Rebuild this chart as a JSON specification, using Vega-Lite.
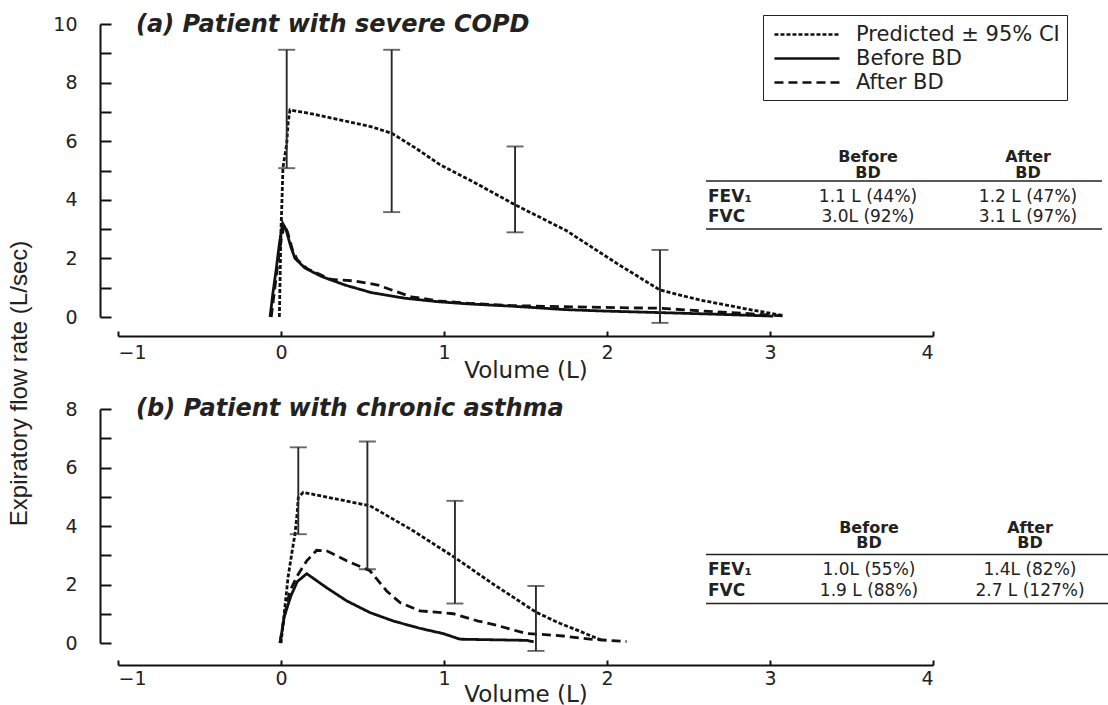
{
  "$schema": "https://vega.github.io/schema/vega-lite/v6.json",
  "autosize": {"type": "pad"},
  "padding": {"left": 7, "top": 12, "right": 0, "bottom": 0},
  "background": "white",
  "datasets": {
    "curves": [
      {"panel":"a","series":"Predicted ± 95% CI","i":1,"volume":-0.01,"flow":0},
      {"panel":"a","series":"Predicted ± 95% CI","i":2,"volume":-0.005,"flow":1.5},
      {"panel":"a","series":"Predicted ± 95% CI","i":3,"volume":0.0,"flow":3.0},
      {"panel":"a","series":"Predicted ± 95% CI","i":4,"volume":0.005,"flow":3.8},
      {"panel":"a","series":"Predicted ± 95% CI","i":5,"volume":0.012,"flow":5.1},
      {"panel":"a","series":"Predicted ± 95% CI","i":6,"volume":0.035,"flow":5.9},
      {"panel":"a","series":"Predicted ± 95% CI","i":7,"volume":0.043,"flow":6.6},
      {"panel":"a","series":"Predicted ± 95% CI","i":8,"volume":0.055,"flow":7.07},
      {"panel":"a","series":"Predicted ± 95% CI","i":9,"volume":0.2,"flow":6.92},
      {"panel":"a","series":"Predicted ± 95% CI","i":10,"volume":0.36,"flow":6.73},
      {"panel":"a","series":"Predicted ± 95% CI","i":11,"volume":0.55,"flow":6.5},
      {"panel":"a","series":"Predicted ± 95% CI","i":12,"volume":0.68,"flow":6.27},
      {"panel":"a","series":"Predicted ± 95% CI","i":13,"volume":0.83,"flow":5.75},
      {"panel":"a","series":"Predicted ± 95% CI","i":14,"volume":0.975,"flow":5.2},
      {"panel":"a","series":"Predicted ± 95% CI","i":15,"volume":1.2,"flow":4.55},
      {"panel":"a","series":"Predicted ± 95% CI","i":16,"volume":1.436,"flow":3.83},
      {"panel":"a","series":"Predicted ± 95% CI","i":17,"volume":1.75,"flow":2.95},
      {"panel":"a","series":"Predicted ± 95% CI","i":18,"volume":2.06,"flow":1.83},
      {"panel":"a","series":"Predicted ± 95% CI","i":19,"volume":2.325,"flow":0.92},
      {"panel":"a","series":"Predicted ± 95% CI","i":20,"volume":2.57,"flow":0.58},
      {"panel":"a","series":"Predicted ± 95% CI","i":21,"volume":2.85,"flow":0.28},
      {"panel":"a","series":"Predicted ± 95% CI","i":22,"volume":3.08,"flow":0.05},

      {"panel":"a","series":"Before BD","i":1,"volume":-0.067,"flow":0},
      {"panel":"a","series":"Before BD","i":2,"volume":-0.05,"flow":0.8},
      {"panel":"a","series":"Before BD","i":3,"volume":-0.03,"flow":1.6},
      {"panel":"a","series":"Before BD","i":4,"volume":-0.01,"flow":2.5},
      {"panel":"a","series":"Before BD","i":5,"volume":0.01,"flow":3.2},
      {"panel":"a","series":"Before BD","i":6,"volume":0.03,"flow":3.0},
      {"panel":"a","series":"Before BD","i":7,"volume":0.06,"flow":2.4},
      {"panel":"a","series":"Before BD","i":8,"volume":0.086,"flow":2.0},
      {"panel":"a","series":"Before BD","i":9,"volume":0.147,"flow":1.67},
      {"panel":"a","series":"Before BD","i":10,"volume":0.25,"flow":1.38},
      {"panel":"a","series":"Before BD","i":11,"volume":0.393,"flow":1.09},
      {"panel":"a","series":"Before BD","i":12,"volume":0.556,"flow":0.83},
      {"panel":"a","series":"Before BD","i":13,"volume":0.761,"flow":0.64},
      {"panel":"a","series":"Before BD","i":14,"volume":0.965,"flow":0.52},
      {"panel":"a","series":"Before BD","i":15,"volume":1.17,"flow":0.44},
      {"panel":"a","series":"Before BD","i":16,"volume":1.415,"flow":0.37},
      {"panel":"a","series":"Before BD","i":17,"volume":1.75,"flow":0.25},
      {"panel":"a","series":"Before BD","i":18,"volume":2.0,"flow":0.2},
      {"panel":"a","series":"Before BD","i":19,"volume":2.325,"flow":0.15},
      {"panel":"a","series":"Before BD","i":20,"volume":2.7,"flow":0.09},
      {"panel":"a","series":"Before BD","i":21,"volume":3.02,"flow":0.03},

      {"panel":"a","series":"After BD","i":1,"volume":-0.06,"flow":0},
      {"panel":"a","series":"After BD","i":2,"volume":-0.04,"flow":0.9},
      {"panel":"a","series":"After BD","i":3,"volume":-0.02,"flow":1.8},
      {"panel":"a","series":"After BD","i":4,"volume":0.0,"flow":2.6},
      {"panel":"a","series":"After BD","i":5,"volume":0.02,"flow":3.15},
      {"panel":"a","series":"After BD","i":6,"volume":0.04,"flow":2.9},
      {"panel":"a","series":"After BD","i":7,"volume":0.07,"flow":2.3},
      {"panel":"a","series":"After BD","i":8,"volume":0.1,"flow":1.95},
      {"panel":"a","series":"After BD","i":9,"volume":0.16,"flow":1.65},
      {"panel":"a","series":"After BD","i":10,"volume":0.25,"flow":1.42},
      {"panel":"a","series":"After BD","i":11,"volume":0.31,"flow":1.28},
      {"panel":"a","series":"After BD","i":12,"volume":0.454,"flow":1.23},
      {"panel":"a","series":"After BD","i":13,"volume":0.595,"flow":1.09},
      {"panel":"a","series":"After BD","i":14,"volume":0.679,"flow":0.92},
      {"panel":"a","series":"After BD","i":15,"volume":0.8,"flow":0.69},
      {"panel":"a","series":"After BD","i":16,"volume":0.965,"flow":0.55},
      {"panel":"a","series":"After BD","i":17,"volume":1.17,"flow":0.46},
      {"panel":"a","series":"After BD","i":18,"volume":1.415,"flow":0.39},
      {"panel":"a","series":"After BD","i":19,"volume":1.75,"flow":0.35},
      {"panel":"a","series":"After BD","i":20,"volume":2.16,"flow":0.31},
      {"panel":"a","series":"After BD","i":21,"volume":2.325,"flow":0.3},
      {"panel":"a","series":"After BD","i":22,"volume":2.6,"flow":0.2},
      {"panel":"a","series":"After BD","i":23,"volume":2.85,"flow":0.12},
      {"panel":"a","series":"After BD","i":24,"volume":3.1,"flow":0.03},

      {"panel":"b","series":"Predicted ± 95% CI","i":1,"volume":0.0,"flow":0},
      {"panel":"b","series":"Predicted ± 95% CI","i":2,"volume":0.02,"flow":1.0},
      {"panel":"b","series":"Predicted ± 95% CI","i":3,"volume":0.043,"flow":2.24},
      {"panel":"b","series":"Predicted ± 95% CI","i":4,"volume":0.07,"flow":3.2},
      {"panel":"b","series":"Predicted ± 95% CI","i":5,"volume":0.086,"flow":3.73},
      {"panel":"b","series":"Predicted ± 95% CI","i":6,"volume":0.1,"flow":4.5},
      {"panel":"b","series":"Predicted ± 95% CI","i":7,"volume":0.106,"flow":4.98},
      {"panel":"b","series":"Predicted ± 95% CI","i":8,"volume":0.137,"flow":5.15},
      {"panel":"b","series":"Predicted ± 95% CI","i":9,"volume":0.342,"flow":4.92},
      {"panel":"b","series":"Predicted ± 95% CI","i":10,"volume":0.546,"flow":4.69},
      {"panel":"b","series":"Predicted ± 95% CI","i":11,"volume":0.81,"flow":3.84},
      {"panel":"b","series":"Predicted ± 95% CI","i":12,"volume":1.067,"flow":2.92},
      {"panel":"b","series":"Predicted ± 95% CI","i":13,"volume":1.3,"flow":2.02},
      {"panel":"b","series":"Predicted ± 95% CI","i":14,"volume":1.569,"flow":1.04},
      {"panel":"b","series":"Predicted ± 95% CI","i":15,"volume":1.7,"flow":0.7},
      {"panel":"b","series":"Predicted ± 95% CI","i":16,"volume":1.83,"flow":0.41},
      {"panel":"b","series":"Predicted ± 95% CI","i":17,"volume":1.977,"flow":0.07},

      {"panel":"b","series":"Before BD","i":1,"volume":-0.006,"flow":0},
      {"panel":"b","series":"Before BD","i":2,"volume":0.02,"flow":0.9},
      {"panel":"b","series":"Before BD","i":3,"volume":0.06,"flow":1.6},
      {"panel":"b","series":"Before BD","i":4,"volume":0.1,"flow":2.1},
      {"panel":"b","series":"Before BD","i":5,"volume":0.158,"flow":2.37},
      {"panel":"b","series":"Before BD","i":6,"volume":0.28,"flow":1.89},
      {"panel":"b","series":"Before BD","i":7,"volume":0.403,"flow":1.44},
      {"panel":"b","series":"Before BD","i":8,"volume":0.546,"flow":1.04},
      {"panel":"b","series":"Before BD","i":9,"volume":0.69,"flow":0.75},
      {"panel":"b","series":"Before BD","i":10,"volume":0.853,"flow":0.5},
      {"panel":"b","series":"Before BD","i":11,"volume":0.996,"flow":0.32},
      {"panel":"b","series":"Before BD","i":12,"volume":1.098,"flow":0.13},
      {"panel":"b","series":"Before BD","i":13,"volume":1.507,"flow":0.09},
      {"panel":"b","series":"Before BD","i":14,"volume":1.55,"flow":0.04},

      {"panel":"b","series":"After BD","i":1,"volume":-0.006,"flow":0},
      {"panel":"b","series":"After BD","i":2,"volume":0.02,"flow":0.9},
      {"panel":"b","series":"After BD","i":3,"volume":0.055,"flow":1.78},
      {"panel":"b","series":"After BD","i":4,"volume":0.1,"flow":2.3},
      {"panel":"b","series":"After BD","i":5,"volume":0.158,"flow":2.81},
      {"panel":"b","series":"After BD","i":6,"volume":0.219,"flow":3.17},
      {"panel":"b","series":"After BD","i":7,"volume":0.28,"flow":3.15},
      {"panel":"b","series":"After BD","i":8,"volume":0.403,"flow":2.81},
      {"panel":"b","series":"After BD","i":9,"volume":0.546,"flow":2.47},
      {"panel":"b","series":"After BD","i":10,"volume":0.648,"flow":1.78},
      {"panel":"b","series":"After BD","i":11,"volume":0.73,"flow":1.38},
      {"panel":"b","series":"After BD","i":12,"volume":0.853,"flow":1.1},
      {"panel":"b","series":"After BD","i":13,"volume":1.057,"flow":1.0},
      {"panel":"b","series":"After BD","i":14,"volume":1.21,"flow":0.75},
      {"panel":"b","series":"After BD","i":15,"volume":1.3,"flow":0.64},
      {"panel":"b","series":"After BD","i":16,"volume":1.507,"flow":0.32},
      {"panel":"b","series":"After BD","i":17,"volume":1.589,"flow":0.3},
      {"panel":"b","series":"After BD","i":18,"volume":1.73,"flow":0.24},
      {"panel":"b","series":"After BD","i":19,"volume":1.896,"flow":0.13},
      {"panel":"b","series":"After BD","i":20,"volume":2.12,"flow":0.05}
    ],
    "ci": [
      {"panel":"a","volume":0.035,"flow":5.08,"flow_hi":9.12},
      {"panel":"a","volume":0.679,"flow":3.58,"flow_hi":9.12},
      {"panel":"a","volume":1.436,"flow":2.89,"flow_hi":5.82},
      {"panel":"a","volume":2.325,"flow":-0.2,"flow_hi":2.29},
      {"panel":"b","volume":0.106,"flow":3.72,"flow_hi":6.69},
      {"panel":"b","volume":0.53,"flow":2.52,"flow_hi":6.89},
      {"panel":"b","volume":1.067,"flow":1.35,"flow_hi":4.86},
      {"panel":"b","volume":1.564,"flow":-0.27,"flow_hi":1.95}
    ],
    "table": [
      {"panel":"a","kind":"head","row":"top","col":"before","text":["Before","BD"]},
      {"panel":"a","kind":"head","row":"top","col":"after","text":["After","BD"]},
      {"panel":"a","kind":"label","row":"bottom","col":"label","text":["FEV₁","FVC"]},
      {"panel":"a","kind":"value","row":"bottom","col":"before","text":["1.1 L (44%)","3.0L (92%)"]},
      {"panel":"a","kind":"value","row":"bottom","col":"after","text":["1.2 L (47%)","3.1 L (97%)"]},
      {"panel":"a","kind":"rule","row":"top","col":"label","text":[]},
      {"panel":"a","kind":"rule","row":"bottom","col":"label","text":[]},
      {"panel":"b","kind":"head","row":"top","col":"before","text":["Before","BD"]},
      {"panel":"b","kind":"head","row":"top","col":"after","text":["After","BD"]},
      {"panel":"b","kind":"label","row":"bottom","col":"label","text":["FEV₁","FVC"]},
      {"panel":"b","kind":"value","row":"bottom","col":"before","text":["1.0L (55%)","1.9 L (88%)"]},
      {"panel":"b","kind":"value","row":"bottom","col":"after","text":["1.4L (82%)","2.7 L (127%)"]},
      {"panel":"b","kind":"rule","row":"top","col":"label","text":[]},
      {"panel":"b","kind":"rule","row":"bottom","col":"label","text":[]}
    ]
  },
  "spacing": 92,
  "bounds": "flush",
  "resolve": {"scale": {"x": "independent", "y": "independent", "strokeDash": "independent"}, "legend": {"strokeDash": "independent"}},
  "vconcat": [
    {
      "width": 815,
      "height": 293,
      "title": {"text": "(a) Patient with severe COPD", "anchor": "start", "frame": "group", "orient": "top", "offset": 0, "dx": 18, "dy": 34, "baseline": "middle", "font": "DejaVu Sans", "fontSize": 24, "fontStyle": "italic", "fontWeight": "bold", "color": "#222"},
      "resolve": {"scale": {"x": "independent", "y": "independent"}},
      "layer": [
        {
          "encoding": {
            "x": {"field": "volume", "type": "quantitative", "scale": {"domain": [-1, 4], "nice": false, "zero": false},
                  "axis": {"title": "Volume (L)", "values": [-1, -0.5, 0, 0.5, 1, 1.5, 2, 2.5, 3, 3.5, 4], "format": "d", "labelExpr": "datum.value % 1 === 0 ? datum.label : ''", "offset": 19, "tickSize": -5, "labelPadding": 12, "titleY": 34, "titleBaseline": "middle"}},
            "y": {"field": "flow", "type": "quantitative", "scale": {"domain": [0, 10], "nice": false, "zero": false},
                  "axis": {"title": "Expiratory flow rate (L/sec)", "values": [0, 1, 2, 3, 4, 5, 6, 7, 8, 9, 10], "labelExpr": "datum.value % 2 === 0 ? datum.label : ''", "offset": 18, "tickSize": -11, "labelPadding": 34, "titleX": -81, "titleY": 359, "titleAngle": -90, "titleAlign": "center", "titleBaseline": "middle", "titleFont": "Liberation Sans", "titleFontSize": 24}}
          },
          "layer": [
            {
              "data": {"name": "curves"},
              "transform": [{"filter": "datum.panel === 'a'"}],
              "mark": {"type": "line", "strokeWidth": 2.8, "color": "#111"},
              "encoding": {
                "strokeDash": {"field": "series", "type": "nominal",
                  "scale": {"domain": ["Predicted ± 95% CI", "Before BD", "After BD"], "range": [[4, 2], [1, 0], [9, 5]]},
                  "legend": {"orient": "none", "legendX": 645, "legendY": -9, "title": null, "strokeColor": "#222", "padding": 7, "symbolType": "M-0.73,0H5.18", "symbolSize": 484, "symbolStrokeWidth": 2.5, "symbolStrokeColor": "#111", "labelFont": "DejaVu Sans", "labelFontSize": 21, "labelOffset": 61, "labelLimit": 400, "rowPadding": 1, "labelColor": "#222"}},
                "order": {"field": "i", "type": "quantitative"}
              }
            },
            {
              "data": {"name": "ci"},
              "transform": [{"filter": "datum.panel === 'a'"}],
              "mark": {"type": "errorbar", "ticks": {"size": 17}, "color": "#2a2a2a", "thickness": 1.9},
              "encoding": {"y2": {"field": "flow_hi"}}
            }
          ]
        },
        {
          "data": {"name": "table"},
          "transform": [{"filter": "datum.panel === 'a'"}],
          "encoding": {
            "y": {"field": "row", "type": "nominal", "scale": {"type": "point", "domain": ["top", "bottom"], "range": [157, 205], "padding": 0}, "axis": null}
          },
          "layer": [
            {
              "transform": [{"filter": "datum.kind === 'rule'"}],
              "mark": {"type": "rule", "strokeWidth": 1.5, "color": "#222", "xOffset": -2, "x2Offset": 74},
              "encoding": {
                "x": {"datum": "label", "type": "nominal", "scale": {"type": "point", "domain": ["label", "before", "after"], "range": [590, 910], "padding": 0}, "axis": null},
                "x2": {"datum": "after"}
              }
            },
            {
              "transform": [{"filter": "datum.kind === 'label'"}],
              "mark": {"type": "text", "align": "left", "baseline": "alphabetic", "lineHeight": 20, "dy": -27, "font": "DejaVu Sans", "fontSize": 17, "fontWeight": "bold", "color": "#222"},
              "encoding": {
                "x": {"field": "col", "type": "nominal", "scale": {"type": "point", "domain": ["label", "before", "after"], "range": [590, 910], "padding": 0}, "axis": null},
                "text": {"field": "text"}
              }
            },
            {
              "transform": [{"filter": "datum.kind === 'head'"}],
              "mark": {"type": "text", "align": "center", "baseline": "alphabetic", "lineHeight": 15.5, "dy": -19, "font": "DejaVu Sans", "fontSize": 16, "fontWeight": "bold", "color": "#222"},
              "encoding": {
                "x": {"field": "col", "type": "nominal", "scale": {"type": "point", "domain": ["label", "before", "after"], "range": [590, 910], "padding": 0}, "axis": null},
                "text": {"field": "text"}
              }
            },
            {
              "transform": [{"filter": "datum.kind === 'value'"}],
              "mark": {"type": "text", "align": "center", "baseline": "alphabetic", "lineHeight": 20, "dy": -27, "font": "DejaVu Sans", "fontSize": 17, "color": "#222"},
              "encoding": {
                "x": {"field": "col", "type": "nominal", "scale": {"type": "point", "domain": ["label", "before", "after"], "range": [590, 910], "padding": 0}, "axis": null},
                "text": {"field": "text"}
              }
            }
          ]
        }
      ]
    },
    {
      "width": 815,
      "height": 234,
      "title": {"text": "(b) Patient with chronic asthma", "anchor": "start", "frame": "group", "orient": "top", "offset": 0, "dx": 18, "dy": 33, "baseline": "middle", "font": "DejaVu Sans", "fontSize": 24, "fontStyle": "italic", "fontWeight": "bold", "color": "#222"},
      "resolve": {"scale": {"x": "independent", "y": "independent"}},
      "layer": [
        {
          "encoding": {
            "x": {"field": "volume", "type": "quantitative", "scale": {"domain": [-1, 4], "nice": false, "zero": false},
                  "axis": {"title": "Volume (L)", "values": [-1, -0.5, 0, 0.5, 1, 1.5, 2, 2.5, 3, 3.5, 4], "format": "d", "labelExpr": "datum.value % 1 === 0 ? datum.label : ''", "offset": 22, "tickSize": -5, "labelPadding": 9, "titleY": 29, "titleBaseline": "middle"}},
            "y": {"field": "flow", "type": "quantitative", "scale": {"domain": [0, 8], "nice": false, "zero": false},
                  "axis": {"title": null, "values": [0, 1, 2, 3, 4, 5, 6, 7, 8], "labelExpr": "datum.value % 2 === 0 ? datum.label : ''", "offset": 18, "tickSize": -11, "labelPadding": 34}}
          },
          "layer": [
            {
              "data": {"name": "curves"},
              "transform": [{"filter": "datum.panel === 'b'"}],
              "mark": {"type": "line", "strokeWidth": 2.8, "color": "#111"},
              "encoding": {
                "strokeDash": {"field": "series", "type": "nominal",
                  "scale": {"domain": ["Predicted ± 95% CI", "Before BD", "After BD"], "range": [[4, 2], [1, 0], [9, 5]]},
                  "legend": null},
                "order": {"field": "i", "type": "quantitative"}
              }
            },
            {
              "data": {"name": "ci"},
              "transform": [{"filter": "datum.panel === 'b'"}],
              "mark": {"type": "errorbar", "ticks": {"size": 17}, "color": "#2a2a2a", "thickness": 1.9},
              "encoding": {"y2": {"field": "flow_hi"}}
            }
          ]
        },
        {
          "data": {"name": "table"},
          "transform": [{"filter": "datum.panel === 'b'"}],
          "encoding": {
            "y": {"field": "row", "type": "nominal", "scale": {"type": "point", "domain": ["top", "bottom"], "range": [145.5, 194.5], "padding": 0}, "axis": null}
          },
          "layer": [
            {
              "transform": [{"filter": "datum.kind === 'rule'"}],
              "mark": {"type": "rule", "strokeWidth": 1.5, "color": "#222", "xOffset": -2, "x2Offset": 80},
              "encoding": {
                "x": {"datum": "label", "type": "nominal", "scale": {"type": "point", "domain": ["label", "before", "after"], "range": [590, 912], "padding": 0}, "axis": null},
                "x2": {"datum": "after"}
              }
            },
            {
              "transform": [{"filter": "datum.kind === 'label'"}],
              "mark": {"type": "text", "align": "left", "baseline": "alphabetic", "lineHeight": 21, "dy": -29, "font": "DejaVu Sans", "fontSize": 17, "fontWeight": "bold", "color": "#222"},
              "encoding": {
                "x": {"field": "col", "type": "nominal", "scale": {"type": "point", "domain": ["label", "before", "after"], "range": [590, 912], "padding": 0}, "axis": null},
                "text": {"field": "text"}
              }
            },
            {
              "transform": [{"filter": "datum.kind === 'head'"}],
              "mark": {"type": "text", "align": "center", "baseline": "alphabetic", "lineHeight": 15.5, "dy": -22, "font": "DejaVu Sans", "fontSize": 16, "fontWeight": "bold", "color": "#222"},
              "encoding": {
                "x": {"field": "col", "type": "nominal", "scale": {"type": "point", "domain": ["label", "before", "after"], "range": [590, 912], "padding": 0}, "axis": null},
                "text": {"field": "text"}
              }
            },
            {
              "transform": [{"filter": "datum.kind === 'value'"}],
              "mark": {"type": "text", "align": "center", "baseline": "alphabetic", "lineHeight": 21, "dy": -29, "font": "DejaVu Sans", "fontSize": 17, "color": "#222"},
              "encoding": {
                "x": {"field": "col", "type": "nominal", "scale": {"type": "point", "domain": ["label", "before", "after"], "range": [590, 912], "padding": 0}, "axis": null},
                "text": {"field": "text"}
              }
            }
          ]
        }
      ]
    }
  ],
  "config": {
    "view": {"stroke": null},
    "axis": {"grid": false, "domainColor": "#111", "tickColor": "#111", "domainWidth": 2, "tickWidth": 2, "labelColor": "#222", "titleColor": "#222", "labelFont": "DejaVu Sans", "titleFont": "DejaVu Sans", "labelFontSize": 19, "titleFontSize": 23, "titleFontWeight": "normal"}
  }
}
